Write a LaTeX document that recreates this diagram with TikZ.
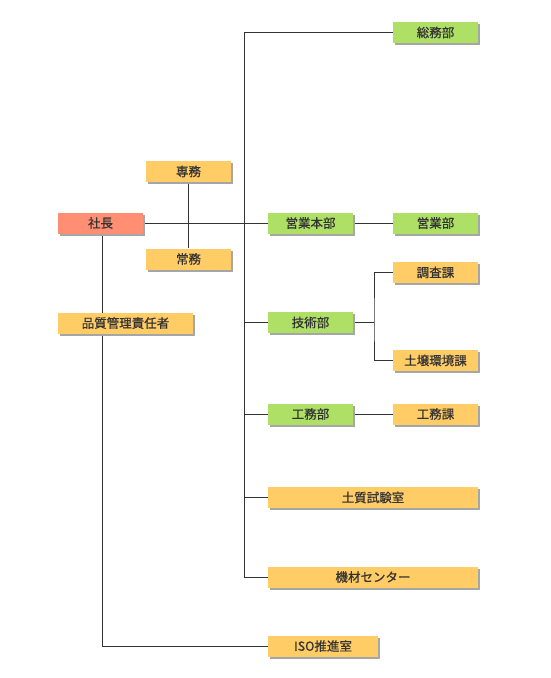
\documentclass[tikz,border=0pt]{standalone}
\usepackage{fontspec}
\setmainfont{Noto Sans CJK JP}[FakeBold=0.6]
\usepackage{tikz}
\usetikzlibrary{shadows,backgrounds}
\definecolor{boxred}{RGB}{255,142,114}
\definecolor{boxyellow}{RGB}{255,204,102}
\definecolor{boxgreen}{RGB}{174,224,102}
\definecolor{linegray}{RGB}{51,51,51}
\tikzset{
  box/.style={draw=none, minimum width=85pt, minimum height=21pt, inner sep=0pt,
    text=linegray, font=\fontsize{12.5}{12.5}\selectfont,
    drop shadow={shadow xshift=2pt, shadow yshift=-2pt, fill=black!35, opacity=1}},
  redbox/.style={box, fill=boxred},
  yellowbox/.style={box, fill=boxyellow},
  greenbox/.style={box, fill=boxgreen},
  conn/.style={draw=linegray, line width=1pt}
}
\begin{document}
\begin{tikzpicture}[x=1pt, y=-1pt]
  \useasboundingbox (0,0) rectangle (550,678);
  % boxes
  \node[redbox] (shacho) at (100.5,223) {社長};
  \node[yellowbox] (senmu) at (188.5,171.5) {専務};
  \node[yellowbox] (jomu) at (188.5,259) {常務};
  \node[yellowbox, minimum width=135pt] (hinshitsu) at (125.5,323) {品質管理責任者};
  \node[greenbox] (somu) at (435.5,32.5) {総務部};
  \node[greenbox] (eigyohonbu) at (310.5,223) {営業本部};
  \node[greenbox] (eigyo) at (435.5,223) {営業部};
  \node[yellowbox] (chosa) at (435.5,272.5) {調査課};
  \node[greenbox] (gijutsu) at (310.5,322.5) {技術部};
  \node[yellowbox] (dojo) at (435.5,360.5) {土壌環境課};
  \node[greenbox] (komubu) at (310.5,414) {工務部};
  \node[yellowbox] (komuka) at (435.5,414) {工務課};
  \node[yellowbox, minimum width=210pt] (shiken) at (373,497.5) {土質試験室};
  \node[yellowbox, minimum width=210pt] (kizai) at (373,577) {機材センター};
  \node[yellowbox, minimum width=110pt] (iso) at (323,646) {ISO推進室};
  \coordinate (trunk) at (244,577);
  \coordinate (gbranch) at (374,322.5);
  % lines
  \begin{scope}[on background layer]
    \draw[conn] (shacho.east) -- (eigyohonbu.west);
    \draw[conn] (senmu.south) -- (jomu.north);
    \draw[conn] (somu.west) -| (trunk) -- (kizai.west);
    \foreach \n in {gijutsu, komubu, shiken}
      \draw[conn] (\n.west) -- (\n.west -| trunk);
    \draw[conn] (eigyohonbu.east) -- (eigyo.west);
    \draw[conn] (gijutsu.east) -- (gbranch);
    \draw[conn] (chosa.west) -| (gbranch) |- (dojo.west);
    \draw[conn] (komubu.east) -- (komuka.west);
    \draw[conn] ([xshift=1.5pt]shacho.south) |- (iso.west);
  \end{scope}
\end{tikzpicture}
\end{document}
